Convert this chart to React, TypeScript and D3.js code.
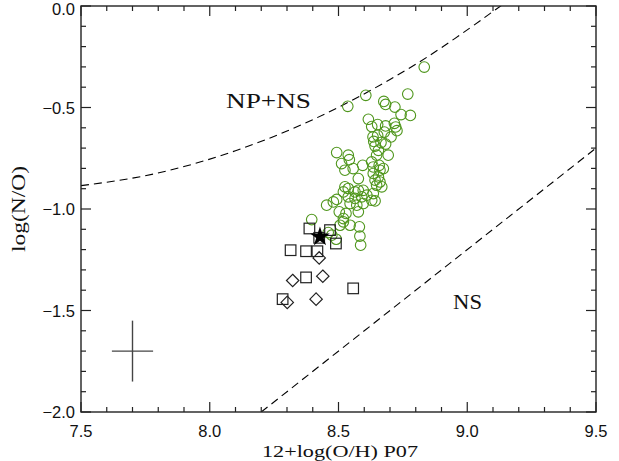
import React from "react";
import * as d3 from "d3";

// ---- data ----
const xTicks = [7.5, 8.0, 8.5, 9.0, 9.5];
const yTicks = [0.0, -0.5, -1.0, -1.5, -2.0];

// green circles: 12+log(O/H), log(N/O)
const circleX = [
  8.833, 8.606, 8.536, 8.769, 8.676, 8.683, 8.719, 8.743, 8.779, 8.616,
  8.629, 8.652, 8.683, 8.717, 8.722, 8.727, 8.678, 8.652, 8.634, 8.704,
  8.637, 8.665, 8.683, 8.642, 8.655, 8.493, 8.538, 8.693, 8.542, 8.512,
  8.525, 8.557, 8.594, 8.577, 8.648, 8.629, 8.658, 8.674, 8.635, 8.655,
  8.642, 8.661, 8.668, 8.648, 8.661, 8.635, 8.525, 8.538, 8.564, 8.519,
  8.577, 8.596, 8.610, 8.590, 8.564, 8.538, 8.545, 8.571, 8.596, 8.629,
  8.642, 8.635, 8.493, 8.480, 8.503, 8.529, 8.577, 8.519, 8.506, 8.545,
  8.581, 8.583, 8.586, 8.519, 8.396, 8.454, 8.474, 8.491, 8.460,
];
const circleY = [
  -0.301, -0.440, -0.494, -0.434, -0.470, -0.485, -0.498, -0.535, -0.539, -0.558,
  -0.594, -0.584, -0.591, -0.578, -0.596, -0.614, -0.621, -0.637, -0.645, -0.645,
  -0.667, -0.673, -0.680, -0.690, -0.711, -0.722, -0.735, -0.735, -0.757, -0.776,
  -0.809, -0.801, -0.785, -0.850, -0.735, -0.768, -0.785, -0.801, -0.825, -0.842,
  -0.858, -0.867, -0.891, -0.883, -0.809, -0.793, -0.891, -0.899, -0.916, -0.916,
  -0.908, -0.908, -0.932, -0.940, -0.948, -0.940, -0.973, -0.981, -0.973, -0.957,
  -0.960, -0.924, -0.953, -0.965, -1.014, -1.022, -1.014, -1.063, -1.080, -1.080,
  -1.088, -1.134, -1.178, -1.047, -1.052, -0.981, -1.129, -1.149, -1.116,
];

const squareX = [8.387, 8.467, 8.425, 8.490, 8.314, 8.374, 8.418, 8.374, 8.557, 8.283];
const squareY = [-1.096, -1.104, -1.142, -1.170, -1.203, -1.208, -1.208, -1.337, -1.391, -1.444];

const diamondX = [8.425, 8.322, 8.439, 8.301, 8.413];
const diamondY = [-1.241, -1.352, -1.331, -1.460, -1.444];

const starX = [8.428];
const starY = [-1.137];

// upper dashed boundary (NP+NS)
const upperX = [7.5, 7.7, 7.9, 8.1, 8.3, 8.5, 8.7, 8.9, 9.1, 9.13];
const upperY = [-0.885, -0.848, -0.791, -0.713, -0.616, -0.499, -0.362, -0.205, -0.027, 0.0];
// lower dashed boundary (NS)
const lowerX = [8.2, 9.5];
const lowerY = [-2.0, -0.7];

// typical error cross
const errX = 7.7;
const errY = -1.7;
const errDx = 0.08;
const errDy = 0.15;

// region labels (position in data units)
const regionLabels = ["NP+NS", "NS"];
const regionX = [8.063, 8.945];
const regionY = [-0.5, -1.493];

const W = 619;
const H = 461;
const L = 81, R = 596, T = 6, B = 412;

export default function App() {
  const x = d3.scaleLinear().domain([7.5, 9.5]).range([L, R]);
  const y = d3.scaleLinear().domain([-2.0, 0.0]).range([B, T]);
  const fmt = d3.format(".1f");
  const minorX = x.ticks(20);
  const minorY = y.ticks(20);
  const line = d3
    .line<[number, number]>()
    .x((d) => x(d[0]))
    .y((d) => y(d[1]))
    .curve(d3.curveNatural);
  const upperPts: [number, number][] = upperX.map((v, i) => [v, upperY[i]]);
  const lowerPts: [number, number][] = lowerX.map((v, i) => [v, lowerY[i]]);
  const star = d3.symbol().type(d3.symbolStar).size(120)();
  const axisColor = "#222";
  const green = "#4f961c";
  const regionLen = [85, 29];

  return (
    <svg
      width={W}
      height={H}
      style={{ position: "absolute", left: 0, top: 0, background: "#fff" }}
    >
      <defs>
        <clipPath id="plot">
          <rect x={L} y={T} width={R - L} height={B - T} />
        </clipPath>
      </defs>
      <rect x={0} y={0} width={W} height={H} fill="#fff" />

      {/* dashed boundaries */}
      <g clipPath="url(#plot)" fill="none" stroke="#000" strokeWidth={1.1} strokeDasharray="8,5">
        <path d={line(upperPts) || ""} />
        <path d={line(lowerPts) || ""} />
      </g>

      {/* region labels */}
      {regionLabels.map((t, i) => (
        <text
          key={t}
          x={x(regionX[i])}
          y={y(regionY[i])}
          fontFamily="Liberation Serif"
          fontSize={21}
          textLength={regionLen[i]}
          lengthAdjust="spacingAndGlyphs"
          fill="#111"
        >
          {t}
        </text>
      ))}

      {/* error cross */}
      <g stroke="#444" strokeWidth={1.4}>
        <line x1={x(errX - errDx)} x2={x(errX + errDx)} y1={y(errY)} y2={y(errY)} />
        <line x1={x(errX)} x2={x(errX)} y1={y(errY - errDy)} y2={y(errY + errDy)} />
      </g>

      {/* green circles */}
      <g fill="none" stroke={green} strokeWidth={1.1}>
        {circleX.map((v, i) => (
          <circle key={i} cx={x(v)} cy={y(circleY[i])} r={5.3} />
        ))}
      </g>

      {/* squares */}
      <g fill="none" stroke="#222" strokeWidth={1.2}>
        {squareX.map((v, i) => (
          <rect key={i} x={x(v) - 5.3} y={y(squareY[i]) - 5.3} width={10.6} height={10.6} />
        ))}
      </g>

      {/* diamonds */}
      <g fill="none" stroke="#222" strokeWidth={1.2}>
        {diamondX.map((v, i) => {
          const cx = x(v), cy = y(diamondY[i]), s = 6.2;
          return (
            <path key={i} d={`M${cx},${cy - s}L${cx + s},${cy}L${cx},${cy + s}L${cx - s},${cy}Z`} />
          );
        })}
      </g>

      {/* star */}
      {starX.map((v, i) => (
        <path key={i} d={star || ""} transform={`translate(${x(v)},${y(starY[i])})`} fill="#000" />
      ))}

      {/* frame */}
      <rect x={L} y={T} width={R - L} height={B - T} fill="none" stroke={axisColor} strokeWidth={1.4} />

      {/* ticks */}
      <g stroke={axisColor} strokeWidth={1.2}>
        {minorX.map((v, i) => {
          const major = xTicks.some((t) => Math.abs(t - v) < 1e-6);
          const len = major ? 10 : 5;
          return (
            <g key={"x" + i}>
              <line x1={x(v)} x2={x(v)} y1={B} y2={B - len} />
              <line x1={x(v)} x2={x(v)} y1={T} y2={T + len} />
            </g>
          );
        })}
        {minorY.map((v, i) => {
          const major = yTicks.some((t) => Math.abs(t - v) < 1e-6);
          const len = major ? 10 : 5;
          return (
            <g key={"y" + i}>
              <line x1={L} x2={L + len} y1={y(v)} y2={y(v)} />
              <line x1={R} x2={R - len} y1={y(v)} y2={y(v)} />
            </g>
          );
        })}
      </g>

      {/* tick labels */}
      <g fontFamily="Liberation Sans" fontSize={16.5} fill="#111">
        {xTicks.map((v) => (
          <text key={"xl" + v} x={x(v)} y={B + 25} textAnchor="middle">
            {fmt(v)}
          </text>
        ))}
        {yTicks.map((v) => (
          <text key={"yl" + v} x={L - 6} y={Math.max(y(v) + 6, 15)} textAnchor="end">
            {fmt(v)}
          </text>
        ))}
      </g>

      {/* axis titles */}
      <text
        x={340}
        y={457}
        textAnchor="middle"
        fontFamily="Liberation Serif"
        fontSize={17}
        textLength={156}
        lengthAdjust="spacingAndGlyphs"
        fill="#111"
      >
        12+log(O/H) P07
      </text>
      <text
        transform={`translate(25,${(T + B) / 2}) rotate(-90)`}
        textAnchor="middle"
        fontFamily="Liberation Serif"
        fontSize={18}
        textLength={86}
        lengthAdjust="spacingAndGlyphs"
        fill="#111"
      >
        log(N/O)
      </text>
    </svg>
  );
}
